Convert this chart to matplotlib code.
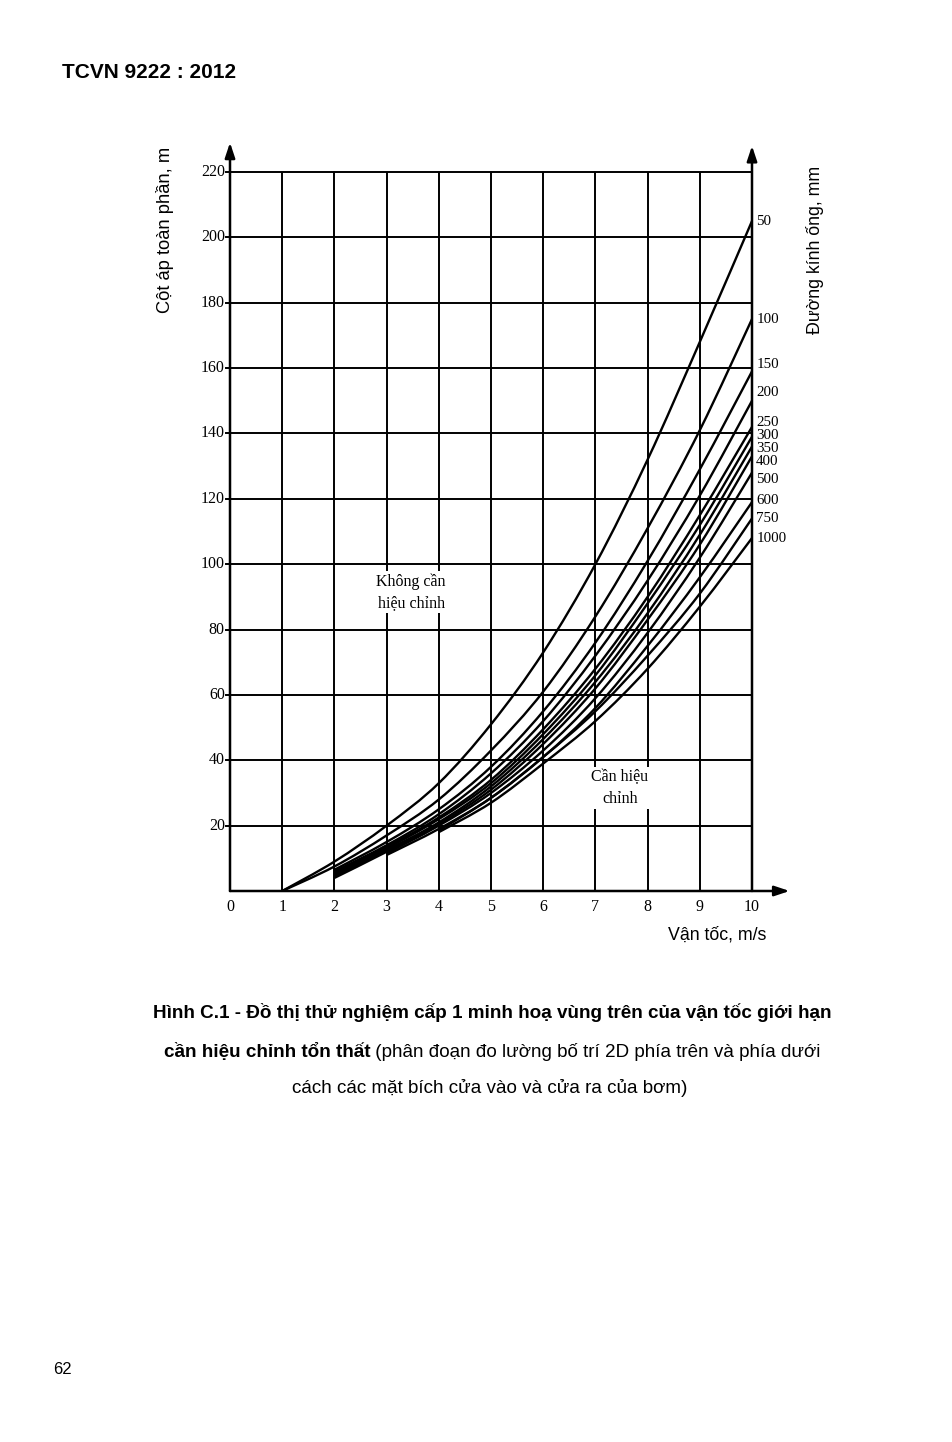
import matplotlib
matplotlib.use("Agg")
import matplotlib.pyplot as plt
from matplotlib.path import Path
from matplotlib.patches import PathPatch
import numpy as np

# ---- data ----
diameters = ["50", "100", "150", "200", "250", "300", "350", "400", "500", "600", "750", "1000"]
x_50 = [1, 2, 3, 4, 5, 6, 7, 8, 9, 10]
h_50 = [0, 9, 20, 33, 51, 73, 100, 132, 168, 205]
x_100 = [1, 2, 3, 4, 5, 6, 7, 8, 9, 10]
h_100 = [0, 7.5, 17, 28, 43, 61, 84, 111, 141, 175]
x_150 = [2, 3, 4, 5, 6, 7, 8, 9, 10]
h_150 = [6.5, 15, 25, 38, 55, 76, 101, 129, 159]
x_200 = [2, 3, 4, 5, 6, 7, 8, 9, 10]
h_200 = [6, 14, 23.5, 36, 52, 72, 95, 121, 150]
x_250 = [2, 3, 4, 5, 6, 7, 8, 9, 10]
h_250 = [5.5, 13.5, 22.5, 34, 49.5, 68, 90, 115, 142]
x_300 = [2, 3, 4, 5, 6, 7, 8, 9, 10]
h_300 = [5, 13, 22, 33, 48, 66, 88, 112, 139]
x_350 = [2, 3, 4, 5, 6, 7, 8, 9, 10]
h_350 = [4.5, 12.5, 21, 32, 46.5, 64, 85, 109, 136]
x_400 = [2, 3, 4, 5, 6, 7, 8, 9, 10]
h_400 = [4, 12, 20.5, 31, 45, 62, 83, 106, 133]
x_500 = [3, 4, 5, 6, 7, 8, 9, 10]
h_500 = [11.5, 20, 30, 43, 59, 79, 102, 128]
x_600 = [3, 4, 5, 6, 7, 8, 9, 10]
h_600 = [11, 19, 28.5, 41, 56, 75, 96, 119]
x_750 = [4, 5, 6, 7, 8, 9, 10]
h_750 = [18.5, 28.5, 41, 55, 72, 91, 114]
x_1000 = [4, 5, 6, 7, 8, 9, 10]
h_1000 = [18, 27, 39, 52, 68, 87, 108]

series = [(x_50, h_50), (x_100, h_100), (x_150, h_150), (x_200, h_200),
          (x_250, h_250), (x_300, h_300), (x_350, h_350), (x_400, h_400),
          (x_500, h_500), (x_600, h_600), (x_750, h_750), (x_1000, h_1000)]

x_ticks = [0, 1, 2, 3, 4, 5, 6, 7, 8, 9, 10]
y_ticks = [20, 40, 60, 80, 100, 120, 140, 160, 180, 200, 220]

# label heights on the right-hand side (layout)
label_y = [205, 175, 161, 152.5, 143.5, 139.3, 135.3, 131.3, 126, 119.6, 114, 107.8]

W, H = 953, 1442
fig = plt.figure(figsize=(W / 100, H / 100), dpi=100)
fig.patch.set_facecolor("white")

serif = "Liberation Serif"
sans = "Liberation Sans"

left, right, top, bottom = 230, 752, 172, 891
ax = fig.add_axes([left / W, 1 - bottom / H, (right - left) / W, (bottom - top) / H])
ax.set_xlim(0, 10)
ax.set_ylim(0, 220)
for s in ax.spines.values():
    s.set_visible(False)
ax.set_xticks([])
ax.set_yticks([])

lw_grid = 1.4
for yv in y_ticks:
    ax.plot([-0.07, 10], [yv, yv], color="black", lw=lw_grid, clip_on=False, zorder=1)
for xv in x_ticks[1:-1]:
    ax.plot([xv, xv], [0, 220], color="black", lw=lw_grid, zorder=1)

arrow_kw = dict(arrowstyle="-|>,head_length=0.9,head_width=0.3", color="black", lw=1.8,
                shrinkA=0, shrinkB=0)
ax.annotate("", xy=(0, 229), xytext=(0, 0), arrowprops=arrow_kw, annotation_clip=False)
ax.annotate("", xy=(10, 228), xytext=(10, 0), arrowprops=arrow_kw, annotation_clip=False)
ax.annotate("", xy=(10.72, 0), xytext=(0, 0), arrowprops=arrow_kw, annotation_clip=False)


def smooth_path(xs, ys):
    """Catmull-Rom curve through the data points, drawn as cubic Bezier segments."""
    p = np.column_stack([xs, ys]).astype(float)
    n = len(p)
    verts = [p[0]]
    codes = [Path.MOVETO]
    for i in range(n - 1):
        p0 = p[i - 1] if i > 0 else p[i]
        p1 = p[i]
        p2 = p[i + 1]
        p3 = p[i + 2] if i + 2 < n else p[i + 1]
        c1 = p1 + (p2 - p0) / 6.0
        c2 = p2 - (p3 - p1) / 6.0
        verts += [c1, c2, p2]
        codes += [Path.CURVE4] * 3
    return Path(verts, codes)


for xs, hs in series:
    ax.add_patch(PathPatch(smooth_path(xs, hs), facecolor="none", edgecolor="black",
                           lw=1.7, zorder=3, capstyle="butt"))

for yv in y_ticks:
    ax.text(-0.1, yv, str(yv), ha="right", va="center", fontsize=11.5, family=serif)
for xv in x_ticks:
    ax.text(xv, -2.6, str(xv), ha="center", va="top", fontsize=11.5, family=serif)

for lab, yv in zip(diameters, label_y):
    ax.text(10.08, yv, lab, ha="left", va="center", fontsize=10.8, family=serif)

box = dict(facecolor="white", edgecolor="none", pad=1.5)
ax.text(3.47, 91.5, "Không cần\nhiệu chỉnh", ha="center", va="center", fontsize=11.5,
        family=serif, linespacing=1.45, bbox=box, zorder=4)
ax.text(7.47, 31.5, "Cần hiệu\nchỉnh", ha="center", va="center", fontsize=11.5,
        family=serif, linespacing=1.45, bbox=box, zorder=4)

fig.text(165 / W, 1 - 230 / H, "Cột áp toàn phần, m", rotation=90, ha="center",
         va="center", fontsize=13.2, family=sans)
fig.text(815 / W, 1 - 250 / H, "Đường kính ống, mm", rotation=90, ha="center",
         va="center", fontsize=12.8, family=sans)
fig.text(717 / W, 1 - 935 / H, "Vận tốc, m/s", ha="center", va="center",
         fontsize=12.8, family=sans)

fig.text(62 / W, 1 - 73 / H, "TCVN 9222 : 2012", ha="left", va="center",
         fontsize=15, fontweight="bold", family=sans)
fig.text(53 / W, 1 - 1370 / H, "62", ha="left", va="center", fontsize=12, family=sans)

cap_fs = 13.6
fig.text(492 / W, 1 - 1012 / H,
         "Hình C.1 - Đồ thị thử nghiệm cấp 1 minh hoạ vùng trên của vận tốc giới hạn",
         ha="center", va="center", fontsize=cap_fs, fontweight="bold", family=sans)

renderer = fig.canvas.get_renderer()
part1 = "cần hiệu chỉnh tổn thất"
part2 = " (phân đoạn đo lường bố trí 2D phía trên và phía dưới"
t1 = fig.text(0, 1 - 1052 / H, part1, ha="left", va="center", fontsize=cap_fs,
              fontweight="bold", family=sans)
t2 = fig.text(0, 1 - 1052 / H, part2, ha="left", va="center", fontsize=cap_fs, family=sans)
w1 = t1.get_window_extent(renderer).width
w2 = t2.get_window_extent(renderer).width
x0 = 492 - (w1 + w2) / 2
t1.set_x(x0 / W)
t2.set_x((x0 + w1) / W)

fig.text(490 / W, 1 - 1088 / H, "cách các mặt bích cửa vào và cửa ra của bơm)",
         ha="center", va="center", fontsize=cap_fs, family=sans)

fig.savefig("out.png", dpi=100, facecolor="white")
